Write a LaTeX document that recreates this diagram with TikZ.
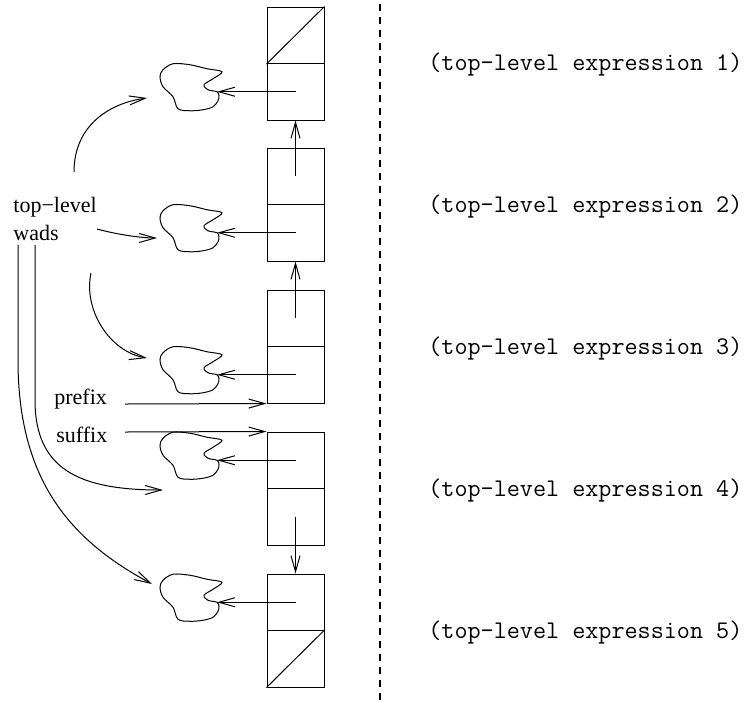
\documentclass[tikz,border=0pt]{standalone}
\usepackage{fontspec}
\setmainfont{Liberation Serif}
\usetikzlibrary{arrows.meta}

\tikzset{
        cell/.style={draw, line width=0.5pt, minimum width=28.5pt, minimum height=28.25pt, inner sep=0pt},
        ptr/.style={-{Straight Barb[length=8pt,width=4.5pt]}, line width=0.5pt},
        lbl/.style={anchor=base west, inner sep=0pt, font={\fontsize{11}{13}\selectfont}},
        expr/.style={anchor=base west, inner sep=0pt, font={\fontsize{12.7}{14}\selectfont\ttfamily}},
}
\newcommand{\wadblob}[1]{%
        \draw[line width=0.5pt, shift={(#1)}] plot[smooth cycle, tension=0.55] coordinates {
                (-57,-15) (-54,-22) (-44,-28) (-27,-27) (-10,-23) (5,-20) (-4,-13) (-13,-7)
                (-9,-2) (0,0) (2,4) (1,9) (-4,15) (-14,18) (-27,19) (-39,17) (-44,5) (-54,-5)};}

\begin{document}
\begin{tikzpicture}[x=0.5pt, y=-0.5pt]
        \useasboundingbox (0,0) rectangle (755,708);
        % the list cells
        \node[cell] (b1a) at (295.5,35.25) {};
        \node[cell] (b1b) at (295.5,91.75) {};
        \node[cell] (b2a) at (295.5,176.25) {};
        \node[cell] (b2b) at (295.5,232.75) {};
        \node[cell] (b3a) at (295.5,318.25) {};
        \node[cell] (b3b) at (295.5,374.75) {};
        \node[cell] (b4a) at (295.5,460.25) {};
        \node[cell] (b4b) at (295.5,516.75) {};
        \node[cell] (b5a) at (295.5,602.25) {};
        \node[cell] (b5b) at (295.5,658.75) {};
        \draw[line width=0.5pt] (b1a.south west) -- (b1a.north east);
        \draw[line width=0.5pt] (b5b.south west) -- (b5b.north east);
        % the wads
        \coordinate (w1) at (217,91.75);
        \coordinate (w2) at (217,232.75);
        \coordinate (w3) at (217,374.75);
        \coordinate (w4) at (217,460.25);
        \coordinate (w5) at (217,602.25);
        \wadblob{w1} \wadblob{w2} \wadblob{w3} \wadblob{w4} \wadblob{w5}
        \draw[ptr] (b1b.center) -- (w1);
        \draw[ptr] (b2b.center) -- (w2);
        \draw[ptr] (b3b.center) -- (w3);
        \draw[ptr] (b4a.center) -- (w4);
        \draw[ptr] (b5a.center) -- (w5);
        \draw[ptr] (b2a.center) -- (b1b.south);
        \draw[ptr] (b3a.center) -- (b2b.south);
        \draw[ptr] (b4b.center) -- (b5a.north);
        % labels on the left
        \node[lbl] (toplevel) at (13,212) {top−level};
        \node[lbl] (wads) at (13,240) {wads};
        \node[lbl] (prefix) at (54,404) {prefix};
        \node[lbl] (suffix) at (56,442) {suffix};
        \coordinate (pre) at (125,404);
        \coordinate (suf) at (125,432);
        \draw[ptr] (pre) -- (b3b.south west);
        \draw[ptr] (suf) -- (b4a.north west);
        \coordinate (src1) at (74,172);  \coordinate (dst1) at (147,98);
        \coordinate (src2) at (97,229);  \coordinate (dst2) at (157,238);
        \coordinate (src3) at (91,273);  \coordinate (dst3) at (147,358);
        \coordinate (src4) at (35,245);  \coordinate (dst4) at (163,490);
        \coordinate (src5) at (18,245);  \coordinate (dst5) at (152,584);
        \draw[ptr] (src1) .. controls (74,125) and (110,103) .. (dst1);
        \draw[ptr] (src2) .. controls (115,234) and (140,238) .. (dst2);
        \draw[ptr] (src3) .. controls (83,310) and (110,352) .. (dst3);
        \draw[ptr] (src4) -- (35,400) .. controls (35,470) and (80,490) .. (dst4);
        \draw[ptr] (src5) -- (18,360) .. controls (18,480) and (70,540) .. (dst5);
        % divider and the expressions
        \draw[line width=0.7pt, dash pattern=on 3.5pt off 3pt] (380,4) -- (380,706);
        \node[expr] (x1) at (428,70) {(top-level expression 1)};
        \node[expr] (x2) at (428,212) {(top-level expression 2)};
        \node[expr] (x3) at (428,354) {(top-level expression 3)};
        \node[expr] (x4) at (428,496) {(top-level expression 4)};
        \node[expr] (x5) at (428,638) {(top-level expression 5)};
\end{tikzpicture}
\end{document}
